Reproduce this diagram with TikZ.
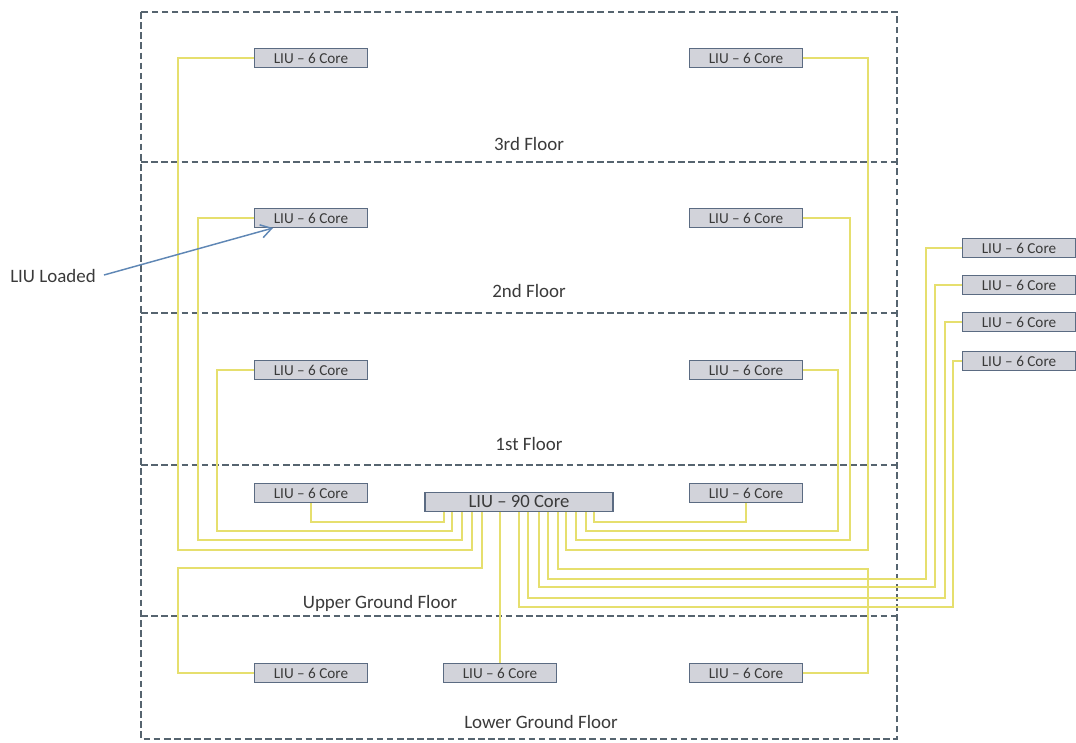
\documentclass[tikz,border=0pt]{standalone}
\usepackage{fontspec}
\setmainfont{Carlito}
\usetikzlibrary{arrows.meta}
\definecolor{fibre}{HTML}{E6DF6E}
\definecolor{boxfill}{HTML}{D2D3DA}
\definecolor{boxline}{HTML}{5B6B82}
\definecolor{floorline}{HTML}{56646F}
\definecolor{labeltext}{HTML}{3A3A3A}
\definecolor{pointer}{HTML}{5F87B5}
\begin{document}
\begin{tikzpicture}[x=0.75pt,y=-0.75pt,
		liu/.style = {draw=boxline, fill=boxfill, line width=1.1pt, minimum width=85pt, minimum height=14pt, inner sep=0pt, text=labeltext, font=\fontsize{11.4}{12}\selectfont},
		liubig/.style = {liu, minimum width=141pt, font=\fontsize{14}{15}\selectfont},
		floorname/.style = {text=labeltext, inner sep=0pt, font=\fontsize{14.2}{15}\selectfont},
		fibreline/.style = {draw=fibre, line width=1.5pt},
		floorsplit/.style = {draw=floorline, line width=0.8pt, dash pattern=on 5pt off 2.6pt}]
	\useasboundingbox (0,0) rectangle (1076,743);

	\draw[floorsplit] (141,12) rectangle (897,739);
	\draw[floorsplit] (141,162) -- (897,162);
	\draw[floorsplit] (141,313) -- (897,313);
	\draw[floorsplit] (141,465) -- (897,465);
	\draw[floorsplit] (141,616) -- (897,616);

	\node[floorname] (third) at (529,144) {3rd Floor};
	\node[floorname] (second) at (529,291) {2nd Floor};
	\node[floorname] (first) at (529,444) {1st Floor};
	\node[floorname] (upper) at (380,603) {Upper Ground Floor};
	\node[floorname] (lower) at (541,722) {Lower Ground Floor};
	\node[floorname] (loaded) at (53,276) {LIU Loaded};

	\node[liubig] (main) at (519,502) {LIU -- 90 Core};

	\node[liu] (thirdL) at (311,58) {LIU -- 6 Core};
	\node[liu] (thirdR) at (746,58) {LIU -- 6 Core};
	\node[liu] (secondL) at (311,218) {LIU -- 6 Core};
	\node[liu] (secondR) at (746,218) {LIU -- 6 Core};
	\node[liu] (firstL) at (311,370) {LIU -- 6 Core};
	\node[liu] (firstR) at (746,370) {LIU -- 6 Core};
	\node[liu] (upperL) at (311,493) {LIU -- 6 Core};
	\node[liu] (upperR) at (746,493) {LIU -- 6 Core};
	\node[liu] (lowerL) at (311,673) {LIU -- 6 Core};
	\node[liu] (lowerM) at (500,673) {LIU -- 6 Core};
	\node[liu] (lowerR) at (746,673) {LIU -- 6 Core};
	\node[liu] (outA) at (1019,248) {LIU -- 6 Core};
	\node[liu] (outB) at (1019,285) {LIU -- 6 Core};
	\node[liu] (outC) at (1019,322) {LIU -- 6 Core};
	\node[liu] (outD) at (1019,361) {LIU -- 6 Core};

	% left side
	\draw[fibreline] (upperL.south) |- (444,522) -- (444,0 |- main.south);
	\draw[fibreline] (firstL.west) -| (217,531) -| (452,0 |- main.south);
	\draw[fibreline] (secondL.west) -| (198,540) -| (462,0 |- main.south);
	\draw[fibreline] (thirdL.west) -| (178,550) -| (472,0 |- main.south);
	\draw[fibreline] (lowerL.west) -| (178,568) -| (482,0 |- main.south);
	\draw[fibreline] (lowerM.north) -- (lowerM.north |- main.south);

	% right side
	\draw[fibreline] (upperR.south) |- (594,522) -- (594,0 |- main.south);
	\draw[fibreline] (firstR.east) -| (838,531) -| (586,0 |- main.south);
	\draw[fibreline] (secondR.east) -| (850,540) -| (576,0 |- main.south);
	\draw[fibreline] (thirdR.east) -| (868,550) -| (566,0 |- main.south);
	\draw[fibreline] (lowerR.east) -| (868,569) -| (558,0 |- main.south);

	% out of the building
	\draw[fibreline] (outA.west) -| (926,579) -| (548,0 |- main.south);
	\draw[fibreline] (outB.west) -| (935,587) -| (539,0 |- main.south);
	\draw[fibreline] (outC.west) -| (945,598) -| (528,0 |- main.south);
	\draw[fibreline] (outD.west) -| (953,607) -| (519,0 |- main.south);

	\coordinate (tip) at (273,228);
	\draw[-{Straight Barb[length=8pt,width=10pt]}, draw=pointer, line width=1.1pt] (104,275) -- (tip);
\end{tikzpicture}
\end{document}
